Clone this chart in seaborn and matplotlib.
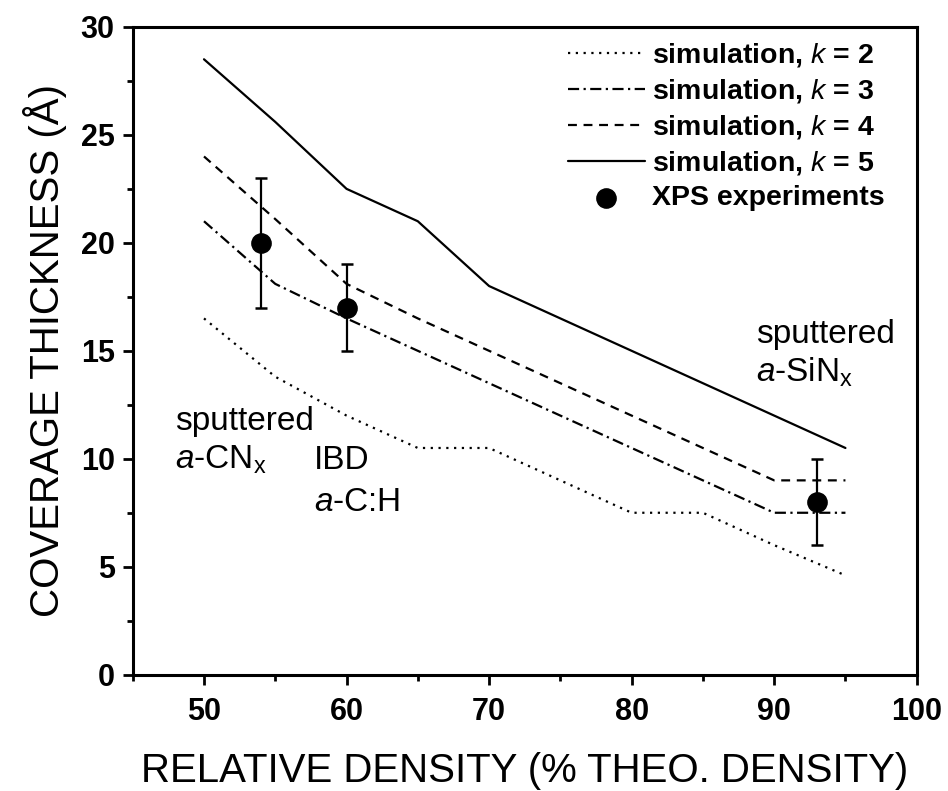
import matplotlib
matplotlib.use("Agg")
import matplotlib.pyplot as plt
import seaborn as sns
import pandas as pd
from matplotlib.ticker import MultipleLocator

sns.set_theme(style="white")
plt.rcParams['font.family'] = ['Liberation Sans', 'DejaVu Sans']
plt.rcParams['mathtext.fontset'] = 'custom'
plt.rcParams['mathtext.rm'] = 'Liberation Sans'
plt.rcParams['mathtext.it'] = 'Liberation Sans:italic'
plt.rcParams['mathtext.bf'] = 'Liberation Sans:bold'
for key in ['text.color', 'axes.labelcolor', 'xtick.color', 'ytick.color', 'axes.edgecolor']:
    plt.rcParams[key] = 'black'

density = [50, 55, 60, 65, 70, 75, 80, 85, 90, 95]
k2 = [16.5, 13.8, 12.0, 10.5, 10.5, 9.0, 7.5, 7.5, 6.0, 4.6]
k3 = [21.0, 18.1, 16.5, 15.0, 13.5, 12.0, 10.5, 9.0, 7.5, 7.5]
k4 = [24.0, 21.1, 18.1, 16.5, 15.0, 13.5, 12.0, 10.5, 9.0, 9.0]
k5 = [28.5, 25.6, 22.5, 21.0, 18.0, 16.5, 15.0, 13.5, 12.0, 10.5]

xps_density = [54, 60, 93]
xps_thick = [20, 17, 8]
xps_err = [3, 2, 2]

fig = plt.figure(figsize=(9.48, 7.91), dpi=100)
ax = fig.add_axes([0.140, 0.147, 0.827, 0.819])

series = [
    (k2, "simulation, $k$ = 2", (0, (1, 2.5))),
    (k3, "simulation, $k$ = 3", (0, (5, 2, 1, 2))),
    (k4, "simulation, $k$ = 4", (0, (4, 3))),
    (k5, "simulation, $k$ = 5", "-"),
]
for vals, lab, ls in series:
    df = pd.DataFrame({"x": density, "y": vals})
    sns.lineplot(data=df, x="x", y="y", ax=ax, color="black", lw=1.6,
                 linestyle=ls, label=lab)

ax.errorbar(xps_density, xps_thick, yerr=xps_err, fmt="none", ecolor="black",
            elinewidth=1.6, capsize=4.5, capthick=1.8, zorder=4)
dfx = pd.DataFrame({"x": xps_density, "y": xps_thick})
sns.scatterplot(data=dfx, x="x", y="y", ax=ax, color="black", s=190,
                edgecolor="black", zorder=5, label="XPS experiments")

ax.set_xlim(45, 100)
ax.set_ylim(0, 30)
ax.xaxis.set_minor_locator(MultipleLocator(5))
ax.yaxis.set_major_locator(MultipleLocator(5))
ax.yaxis.set_minor_locator(MultipleLocator(2.5))
ax.set_xticks([50, 60, 70, 80, 90, 100])
ax.tick_params(axis="both", which="major", direction="out", length=7, width=2,
               labelsize=22, bottom=True, left=True, pad=6)
ax.tick_params(axis="x", which="major", pad=9)
ax.tick_params(axis="both", which="minor", direction="out", length=4, width=2,
               bottom=True, left=True)
for lbl in ax.get_xticklabels() + ax.get_yticklabels():
    lbl.set_fontweight("bold")
for sp in ax.spines.values():
    sp.set_linewidth(2.2)

ax.set_xlabel("RELATIVE DENSITY (% THEO. DENSITY)", fontsize=29, labelpad=18)
ax.set_ylabel("COVERAGE THICKNESS (Å)", fontsize=29, labelpad=10)

ann = dict(fontsize=24, ha="left", va="baseline")
ax.text(48.0, 11.34, "sputtered", **ann)
ax.text(48.0, 9.54, "$a$-CN$_\\mathrm{x}$", **ann)
ax.text(57.7, 9.54, "IBD", **ann)
ax.text(57.7, 7.6, "$a$-C:H", **ann)
ax.text(88.7, 15.37, "sputtered", **ann)
ax.text(88.7, 13.56, "$a$-SiN$_\\mathrm{x}$", **ann)

leg = ax.legend(loc="upper left", bbox_to_anchor=(0.555, 0.978), frameon=False,
                prop={"size": 20.5, "weight": "bold"}, handlelength=2.7,
                handletextpad=0.25, labelspacing=0.28, borderaxespad=0.0,
                borderpad=0.0)

fig.savefig("out.png", dpi=100)
